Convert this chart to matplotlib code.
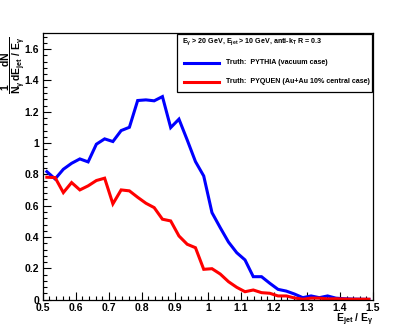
import matplotlib
matplotlib.use("Agg")
import matplotlib.pyplot as plt
import numpy as np
from matplotlib.lines import Line2D
from matplotlib.patches import Rectangle
from matplotlib.ticker import MultipleLocator

plt.rcParams['font.family'] = ['Liberation Sans', 'DejaVu Sans']
plt.rcParams['font.weight'] = 'bold'
plt.rcParams['mathtext.fontset'] = 'custom'
plt.rcParams['mathtext.rm'] = 'Liberation Sans:bold'
plt.rcParams['mathtext.it'] = 'Liberation Sans:bold'
plt.rcParams['mathtext.bf'] = 'Liberation Sans:bold'
plt.rcParams['mathtext.sf'] = 'Liberation Sans:bold'

# bin centres of E_jet / E_gamma (width 0.025 from 0.5 to 1.5)
bin_lo = 0.5
bin_width = 0.025
pythia = [0.818, 0.771, 0.833, 0.871, 0.899, 0.880, 0.993, 1.027, 1.010, 1.080,
          1.101, 1.272, 1.276, 1.270, 1.297, 1.099, 1.153, 1.020, 0.882, 0.790,
          0.556, 0.460, 0.368, 0.300, 0.254, 0.147, 0.147, 0.105, 0.066, 0.055,
          0.036, 0.013, 0.024, 0.013, 0.024, 0.010, 0.006, 0.004, 0.003, 0.002]
pyquen = [0.782, 0.780, 0.684, 0.748, 0.701, 0.727, 0.761, 0.776, 0.612, 0.701,
          0.695, 0.654, 0.616, 0.588, 0.514, 0.503, 0.407, 0.354, 0.332, 0.194,
          0.198, 0.164, 0.115, 0.079, 0.051, 0.062, 0.045, 0.041, 0.024, 0.024,
          0.011, 0.003, 0.010, 0.010, 0.005, 0.006, 0.004, 0.003, 0.003, 0.003]
x = bin_lo + bin_width * (np.arange(len(pythia)) + 0.5)

header = r'E$_{\gamma}$ > 20 GeV, E$_{jet}$ > 10 GeV, anti-k$_{T}$ R = 0.3'
labels = ['Truth:  PYTHIA (vacuum case)', 'Truth:  PYQUEN (Au+Au 10% central case)']
colors = ['#0000ff', '#ff0000']

W, H = 415, 333
fig = plt.figure(figsize=(W / 100, H / 100), dpi=100)
ax = fig.add_axes([42.7 / W, 33.3 / H, (373 - 42.7) / W, (300 - 33) / H])
ax.plot(x, pythia, color=colors[0], lw=2.2, solid_joinstyle='miter')
ax.plot(x, pyquen, color=colors[1], lw=2.2, solid_joinstyle='miter')
ax.set_xlim(0.5, 1.5)
ax.set_ylim(0, 1.705)
ax.xaxis.set_major_locator(MultipleLocator(0.1))
ax.xaxis.set_minor_locator(MultipleLocator(0.02))
ax.yaxis.set_major_locator(MultipleLocator(0.2))
ax.yaxis.set_minor_locator(MultipleLocator(0.04))
ax.tick_params(which='both', direction='in', top=False, right=False, labelsize=7.5, width=0.8)
ax.tick_params(which='major', length=5.8, pad=2.5)
ax.tick_params(which='minor', length=2.8)
ax.set_xticks(np.round(np.arange(0.5, 1.51, 0.1), 1))
ax.set_xticklabels(['0.5', '0.6', '0.7', '0.8', '0.9', '1', '1.1', '1.2', '1.3', '1.4', '1.5'])
ax.set_yticks(np.round(np.arange(0, 1.61, 0.2), 1))
ax.set_yticklabels(['0', '0.2', '0.4', '0.6', '0.8', '1', '1.2', '1.4', '1.6'])
for s in ax.spines.values():
    s.set_linewidth(0.9)

# legend box
fig.patches.append(Rectangle((177 / W, 1 - 92 / H), (372 - 177) / W, (92 - 34) / H,
                             transform=fig.transFigure, fill=True, facecolor='white',
                             edgecolor='black', lw=0.9, zorder=5))
fig.text(182 / W, 1 - 42 / H, header, fontsize=5.1, ha='left', va='center', zorder=6)
for i, (lab, c) in enumerate(zip(labels, colors)):
    yy = 1 - (62.7 + 19 * i) / H
    fig.lines.append(Line2D([184 / W, 219 / W], [yy, yy], transform=fig.transFigure,
                            color=c, lw=2.2, zorder=6))
    fig.text(226 / W, yy, lab, fontsize=5.1, ha='left', va='center', zorder=6)

fig.text(13 / W, 1 - 37 / H,
         r'$\dfrac{1}{N_{\gamma}}\dfrac{dN}{dE_{jet}\ /\ E_{\gamma}}$',
         rotation=90, fontsize=7.5, ha='center', va='top')
fig.text(373 / W, 1 - 322 / H, r'E$_{jet}$ / E$_{\gamma}$', fontsize=7.5,
         ha='right', va='baseline')

fig.savefig('out.png', dpi=100)
